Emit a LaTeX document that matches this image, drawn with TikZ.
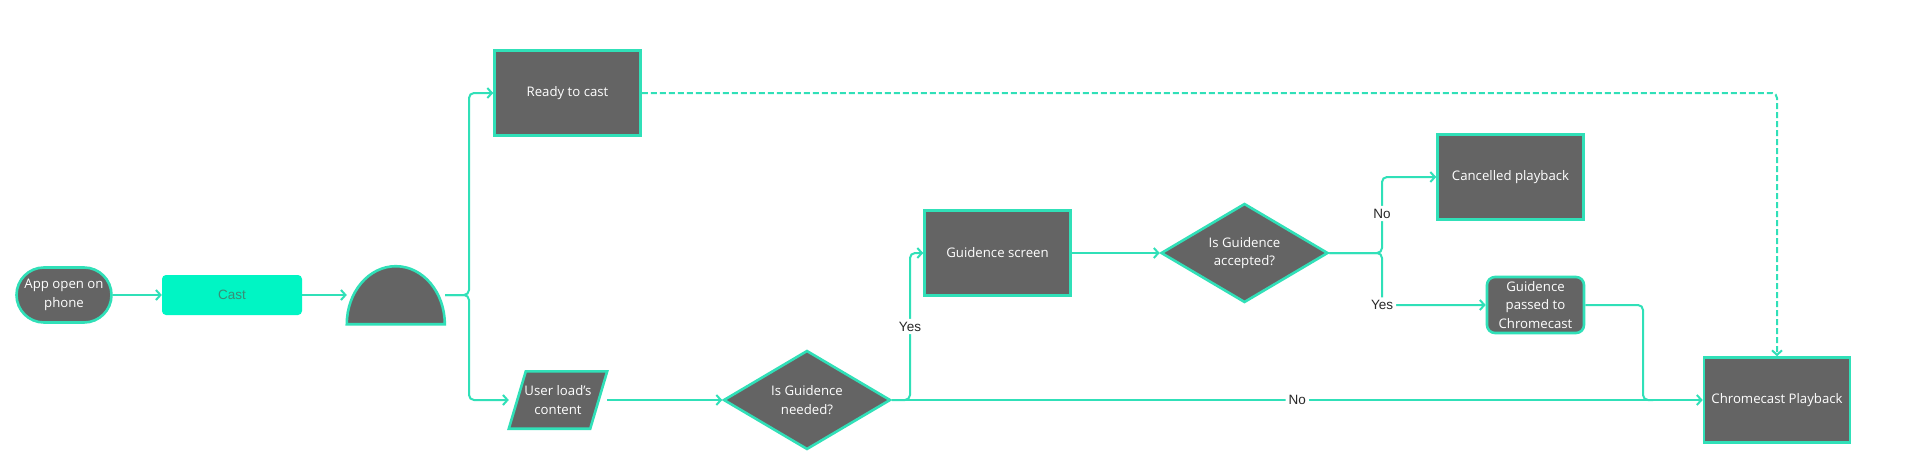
\documentclass[tikz,border=0pt]{standalone}
\usepackage{fontspec}
\setmainfont{Open Sans}
\newfontfamily\labelfont{Liberation Sans}
\usetikzlibrary{shapes.geometric,arrows.meta,calc}
\pgfdeclarelayer{bg}
\pgfsetlayers{bg,main}
\definecolor{teal}{RGB}{48,224,184}
\definecolor{boxgray}{RGB}{100,100,100}
\definecolor{castgreen}{RGB}{0,245,196}
\definecolor{casttext}{RGB}{58,140,118}
\definecolor{labeltext}{RGB}{40,40,40}
\tikzset{
  boxtext/.style={text=white, font=\fontsize{13.2}{18.5}\selectfont, align=center, inner sep=0pt},
  procbox/.style={boxtext, draw=teal, line width=2.6pt, fill=boxgray, minimum width=146pt, minimum height=85pt},
  decision/.style={boxtext, diamond, draw=teal, line width=2.6pt, fill=boxgray, minimum width=167pt, minimum height=99pt, aspect=1.7},
  conn/.style={draw=teal, line width=2pt, rounded corners=5pt, -{Straight Barb[length=4.5pt,width=10pt,line width=2pt]}},
  plainline/.style={draw=teal, line width=2pt, rounded corners=5pt},
  edgelabel/.style={fill=white, text=labeltext, font=\labelfont\fontsize{13.5}{15}\selectfont, inner sep=3pt},
}
\begin{document}
\begin{tikzpicture}[x=1pt,y=-1pt]
\useasboundingbox (0,0) rectangle (1920,452);

% nodes
\node[boxtext, draw=teal, line width=2.6pt, fill=boxgray, rounded corners=27.5pt, minimum width=95pt, minimum height=55pt] (app) at (64,295) {App open on\\phone};
\node[fill=castgreen, rounded corners=4pt, minimum width=140pt, minimum height=40pt, inner sep=0pt, text=casttext, font=\labelfont\fontsize{13.5}{15}\selectfont] (cast) at (232,295) {Cast};
\node[minimum width=98pt, minimum height=58pt, inner sep=0pt] (half) at (396,295) {};
\node[procbox] (ready) at (567.5,93) {Ready to cast};
\node[boxtext, minimum width=98pt, minimum height=57pt] (user) at (558,400) {User load\symbol{39}s\\content};
\node[decision] (need) at (807,400) {Is Guidence\\needed?};
\node[procbox] (guide) at (997.5,253) {Guidence screen};
\node[decision] (acc) at (1244.5,253) {Is Guidence\\accepted?};
\node[procbox] (cancel) at (1510.5,177) {Cancelled playback};
\node[boxtext, draw=teal, line width=2.6pt, fill=boxgray, rounded corners=8pt, minimum width=97pt, minimum height=56pt] (passed) at (1535.5,305) {Guidence\\passed to\\Chromecast};
\node[procbox] (play) at (1777,400) {Chromecast Playback};

% shapes drawn behind
\begin{pgfonlayer}{bg}
\fill[white] (0,0) rectangle (1920,452);
\draw[draw=teal, line width=2.6pt, fill=boxgray] (half.south west) arc[start angle=180, end angle=0, x radius=49pt, y radius=58pt] -- cycle;
\draw[draw=teal, line width=2.6pt, fill=boxgray, line join=miter] (user.south west) -- ($(user.south east)+(-17,0)$) -- (user.north east) -- ($(user.north west)+(17,0)$) -- cycle;
\end{pgfonlayer}

% connectors
\draw[conn] (app.east) -- (cast.west);
\draw[conn] (cast.east) -- (half.west);
\coordinate (split) at (469,295);
\draw[conn] (half.east) -- (split) |- (ready.west);
\draw[conn] (half.east) -- (split) |- (user.west);
\draw[conn] (user.east) -- (need.west);
\draw[conn, dashed, dash pattern=on 6pt off 3pt] (ready.east) -| (play.north);
\draw[conn] (need.east) -- (910,400) |- node[edgelabel, pos=0.25] {Yes} (guide.west);
\draw[conn] (guide.east) -- (acc.west);
\coordinate (split2) at (1382,253);
\draw[conn] (acc.east) -- (split2) |- node[edgelabel, pos=0.26] {No} (cancel.west);
\draw[conn] (acc.east) -- (split2) |- node[edgelabel, pos=0.5] {Yes} (passed.west);
\draw[conn] (need.east) -- node[edgelabel, pos=0.5] {No} (play.west);
\coordinate (join) at (1643,400);
\draw[plainline] (passed.east) -| (join) -- ++(10,0);
\end{tikzpicture}
\end{document}
